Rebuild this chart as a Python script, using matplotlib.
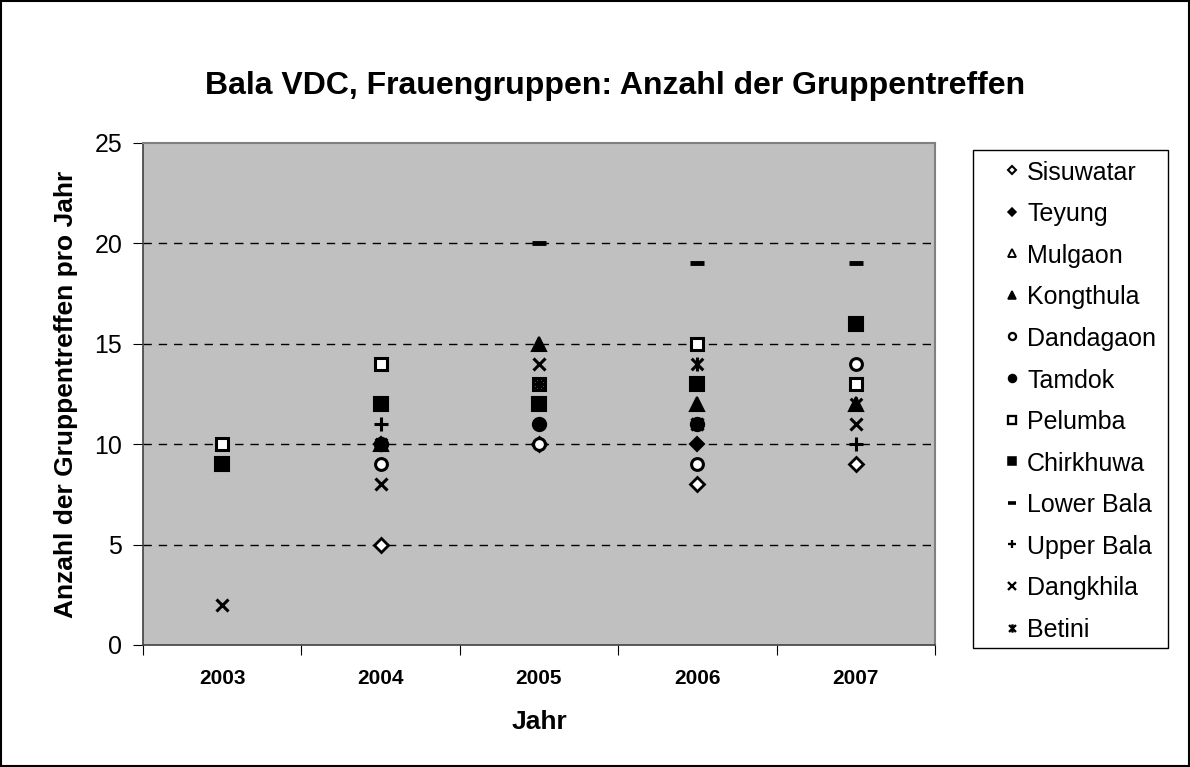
import numpy as np
import matplotlib.pyplot as plt
from matplotlib.lines import Line2D
from matplotlib.path import Path

plt.rcParams['font.family'] = ['Liberation Sans', 'DejaVu Sans']

years = ['2003', '2004', '2005', '2006', '2007']
groups = ['Sisuwatar', 'Teyung', 'Mulgaon', 'Kongthula', 'Dandagaon', 'Tamdok',
          'Pelumba', 'Chirkhuwa', 'Lower Bala', 'Upper Bala', 'Dangkhila', 'Betini']

# values per group (None = no value)
sisuwatar = [None, 5, 10, 8, 9]
teyung = [None, 10, None, 10, None]
mulgaon = [None, None, None, None, None]
kongthula = [None, 10, 15, 12, 12]
dandagaon = [None, 9, 10, 9, 14]
tamdok = [None, 10, 11, 11, None]
pelumba = [10, 14, 13, 15, 13]
chirkhuwa = [9, 12, 12, 13, 16]
lower_bala = [None, None, 20, 19, 19]
upper_bala = [None, 11, 13, 11, 10]
dangkhila = [2, 8, 14, 11, 11]
betini = [None, 10, 13, 14, 12]

values = [sisuwatar, teyung, mulgaon, kongthula, dandagaon, tamdok,
          pelumba, chirkhuwa, lower_bala, upper_bala, dangkhila, betini]

star = Path([(-1, -1), (1, 1), (-1, 1), (1, -1), (0, -1.2), (0, 1.2)],
            [Path.MOVETO, Path.LINETO, Path.MOVETO, Path.LINETO, Path.MOVETO, Path.LINETO])

styles = [
    dict(marker='D', mfc='white', mec='black', ms=7.5, mew=2),
    dict(marker='D', mfc='black', mec='black', ms=7.5, mew=1.5),
    dict(marker='^', mfc='white', mec='black', ms=9, mew=1.8),
    dict(marker='^', mfc='black', mec='black', ms=10, mew=1.5),
    dict(marker='o', mfc='white', mec='black', ms=8.5, mew=2.2),
    dict(marker='o', mfc='black', mec='black', ms=9.5, mew=1.5),
    dict(marker='s', mfc='white', mec='black', ms=8.5, mew=2.2),
    dict(marker='s', mfc='black', mec='black', ms=9.5, mew=1.5),
    dict(marker='_', mfc='black', mec='black', ms=10, mew=3.5),
    dict(marker='+', mfc='black', mec='black', ms=10, mew=2.2),
    dict(marker='x', mfc='black', mec='black', ms=9, mew=2.2),
    dict(marker=star, mfc='black', mec='black', ms=10, mew=2.2),
]

W, H = 1190, 767
fig = plt.figure(figsize=(W / 100, H / 100), dpi=100)
ax = fig.add_axes([143 / W, 1 - 645 / H, (935 - 143) / W, (645 - 143) / H])
ax.set_facecolor('#c0c0c0')

x = np.arange(len(years))
for name, vals, st in zip(groups, values, styles):
    xs = [xi for xi, v in zip(x, vals) if v is not None]
    ys = [v for v in vals if v is not None]
    ax.plot(xs, ys, linestyle='none', label=name, clip_on=False, **st)

ax.set_xlim(-0.5, 4.5)
ax.set_ylim(0, 25)
ax.set_yticks(range(0, 26, 5))
ax.set_xticks(np.arange(-0.5, 5, 1))
ax.set_xticklabels([])
ax.set_xticks(x, minor=True)
ax.set_xticklabels(years, minor=True, fontsize=15, fontweight='bold')
ax.tick_params(axis='x', which='minor', length=0, pad=17)
ax.tick_params(axis='x', which='major', length=7, direction='out')
ax.tick_params(axis='y', labelsize=18, length=7, pad=8)
for yv in [5, 10, 15, 20]:
    ax.axhline(yv, color='black', linestyle=(0, (6, 5)), linewidth=1, zorder=0)

for side in ['top', 'right']:
    ax.spines[side].set_color('#808080')
    ax.spines[side].set_linewidth(1.5)
for side in ['left', 'bottom']:
    ax.spines[side].set_color('#404040')
    ax.spines[side].set_linewidth(1.2)

ax.set_xlabel('Jahr', fontsize=19, fontweight='bold', labelpad=16)
ax.set_ylabel('Anzahl der Gruppentreffen pro Jahr', fontsize=19, fontweight='bold', labelpad=12)
fig.text(615 / W, 1 - 86 / H, 'Bala VDC, Frauengruppen: Anzahl der Gruppentreffen',
         ha='center', va='center', fontsize=23, fontweight='bold')

# legend, laid out by hand to match the box of the original
fig.patches.append(plt.Rectangle((973 / W, 1 - 648 / H), (1168 - 973) / W, (648 - 150) / H,
                                 transform=fig.transFigure, fill=False,
                                 edgecolor='black', linewidth=1))
for i, (name, st) in enumerate(zip(groups, styles)):
    yrow = 1 - (170 + i * 41.6) / H
    lst = dict(st)
    lst['ms'] = st['ms'] * 0.6
    lst['mew'] = st['mew'] * 0.75
    fig.add_artist(Line2D([1012 / W], [yrow], transform=fig.transFigure,
                          linestyle='none', **lst))
    fig.text(1027 / W, yrow, name, ha='left', va='center_baseline', fontsize=18)

fig.patches.append(plt.Rectangle((0.001, 0.001), 0.998, 0.998, transform=fig.transFigure,
                                 fill=False, edgecolor='black', linewidth=1.5))

fig.savefig('out.png', dpi=100)
